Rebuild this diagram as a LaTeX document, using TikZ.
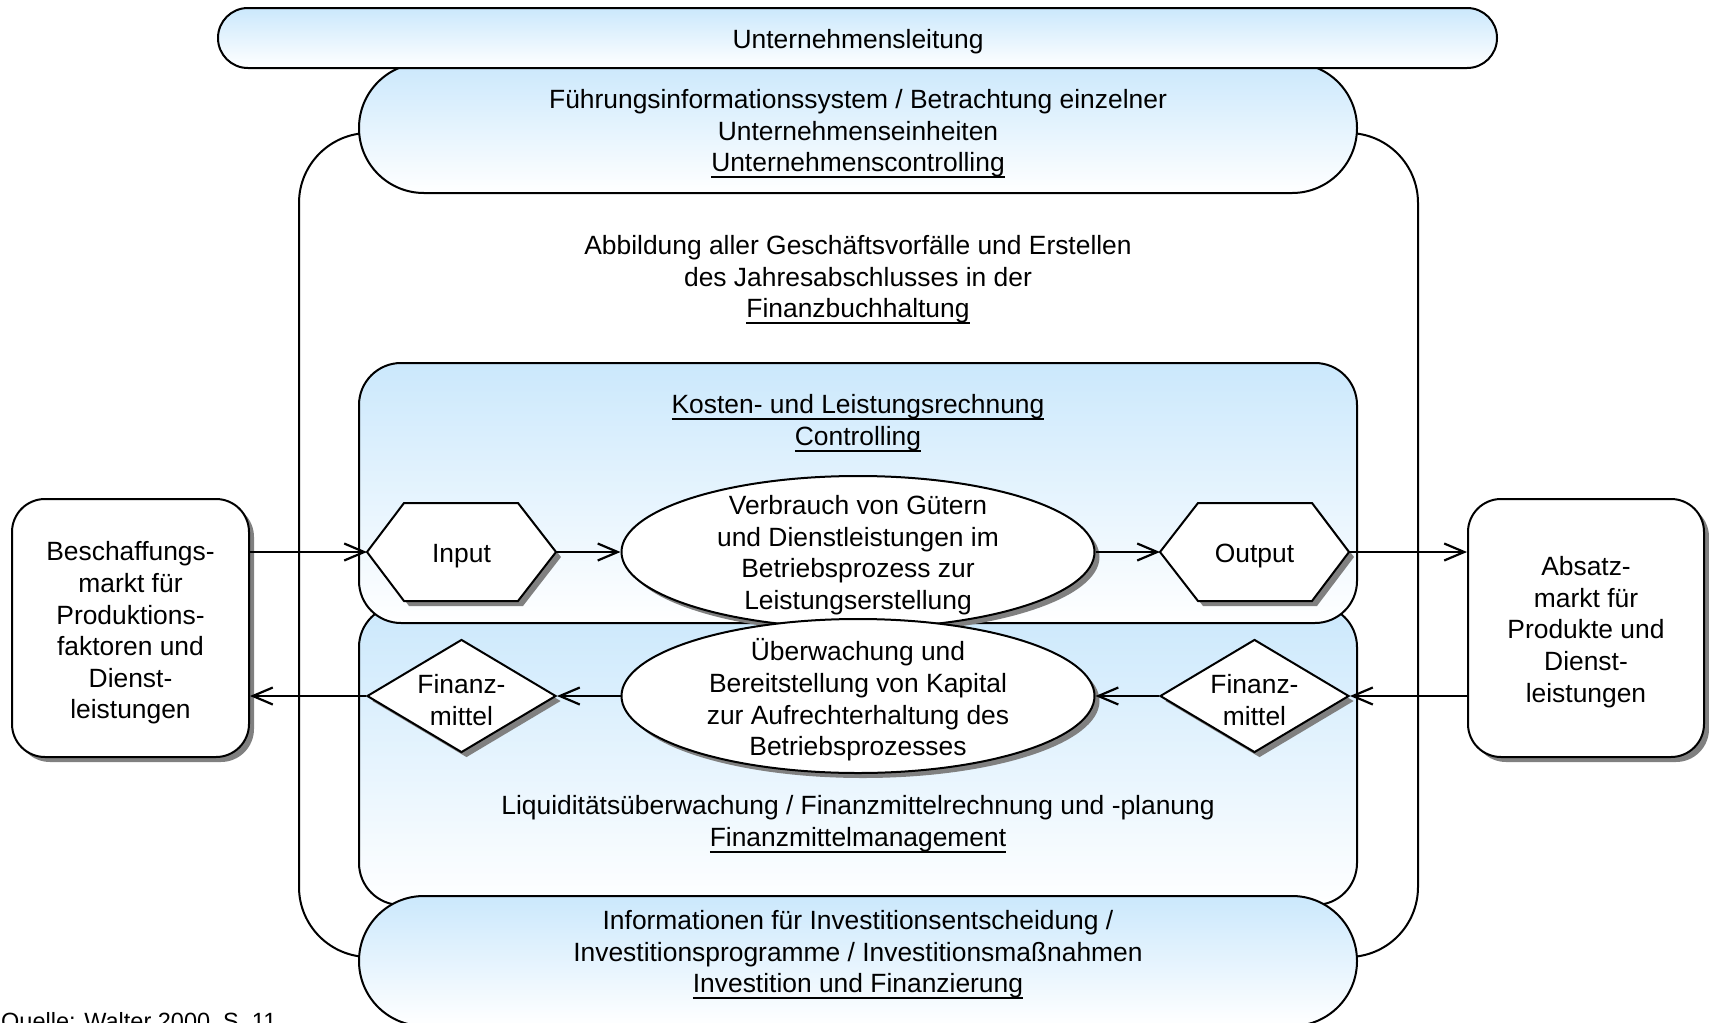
\documentclass[tikz,border=0pt]{standalone}
\usepackage{fontspec}
\setmainfont{Liberation Sans}
\usetikzlibrary{arrows.meta,shapes.geometric,shadows}

\definecolor{paleblue}{RGB}{203,232,252}
\definecolor{shadowgray}{RGB}{128,128,128}

% underline set at a fixed depth below the baseline
\newsavebox\ulbox
\newcommand\ulined[1]{\leavevmode\sbox\ulbox{#1}\rlap{\rule[-0.25em]{\wd\ulbox}{0.075em}}\usebox\ulbox}

\tikzset{
  every node/.style={inner sep=0pt, font=\fontsize{26.4}{31.6}\selectfont},
  txt/.style={align=center},
  dropsh/.style={drop shadow={shadow xshift=5pt, shadow yshift=-5pt, fill=shadowgray, opacity=1}},
  lane/.style={draw, line width=2pt, top color=paleblue, bottom color=white},
  frameline/.style={draw, line width=2pt},
  figure/.style={draw, line width=2pt, fill=white, dropsh},
  oval/.style={figure, ellipse, minimum width=473pt, minimum height=152pt},
  rhomb/.style={figure, diamond, minimum width=189pt, minimum height=113pt},
  market/.style={figure, rectangle, rounded corners=33pt, minimum width=237pt, minimum height=258pt},
  arr/.style={line width=2.2pt, -{Straight Barb[length=20pt,width=17pt,line width=2.2pt]}}
}

\begin{document}
\begin{tikzpicture}[x=1pt,y=-1pt]
\useasboundingbox (0,0) rectangle (1709,1023);
\clip (0,0) rectangle (1709,1023);

% outer frame of the accounting system
\draw[frameline, rounded corners=70pt] (299,133) rectangle (1418,957);

% cost accounting and liquidity bands
\draw[lane, rounded corners=42pt] (359,605) rectangle (1357,905);
\draw[lane, rounded corners=42pt] (359,363) rectangle (1357,623);

% management layers
\draw[lane, rounded corners=64.9pt] (359,63) rectangle (1357,193);
\draw[lane, rounded corners=29.9pt] (218,8) rectangle (1497,68);
\draw[lane, rounded corners=64.9pt] (359,896) rectangle (1357,1026);

\node[txt] (lead) at (858,42) {Unternehmensleitung};
\node[txt] (fis) at (858,134) {Führungsinformationssystem / Betrachtung einzelner\\Unternehmenseinheiten\\\ulined{Unternehmenscontrolling}};
\node[txt] (fibu) at (858,280) {Abbildung aller Geschäftsvorfälle und Erstellen\\des Jahresabschlusses in der\\\ulined{Finanzbuchhaltung}};
\node[txt] (klr) at (858,423) {\ulined{Kosten- und Leistungsrechnung}\\\ulined{Controlling}};
\node[txt] (liq) at (858,824) {Liquiditätsüberwachung / Finanzmittelrechnung und -planung\\\ulined{Finanzmittelmanagement}};
\node[txt] (inv) at (858,955) {Informationen für Investitionsentscheidung /\\Investitionsprogramme / Investitionsmaßnahmen\\\ulined{Investition und Finanzierung}};

% input / output hexagons
\coordinate (inW) at (367,552);
\coordinate (inE) at (556,552);
\draw[line width=2pt, fill=white, dropsh] (inW) -- (404,503) -- (518,503) -- (inE) -- (518,601) -- (404,601) -- cycle;
\node[txt] (input) at (461.5,556) {Input};

\coordinate (outW) at (1160,552);
\coordinate (outE) at (1349,552);
\draw[line width=2pt, fill=white, dropsh] (outW) -- (1198,503) -- (1312,503) -- (outE) -- (1312,601) -- (1198,601) -- cycle;
\node[txt] (output) at (1254.5,556) {Output};

% process ellipses
\node[oval] (use) at (858,552) {};
\node[txt] at (use) [yshift=-3pt] {Verbrauch von Gütern\\und Dienstleistungen im\\Betriebsprozess zur\\Leistungserstellung};
\node[oval, minimum height=154pt] (watch) at (858,696) {};
\node[txt] at (watch) [yshift=-4pt] {Überwachung und\\Bereitstellung von Kapital\\zur Aufrechterhaltung des\\Betriebsprozesses};

% funds diamonds
\node[rhomb] (fmL) at (461.5,696) {};
\node[txt] at (fmL) [yshift=-4pt] {Finanz-\\mittel};
\node[rhomb] (fmR) at (1254.5,696) {};
\node[txt] at (fmR) [yshift=-4pt] {Finanz-\\mittel};

% markets
\node[market] (buy) at (130.5,628) {};
\node[txt] at (buy) [yshift=-5pt] {Beschaffungs-\\markt für\\Produktions-\\faktoren und\\Dienst-\\leistungen};
\node[market, minimum width=236pt] (sell) at (1586,628) {};
\node[txt] at (sell) [yshift=-4pt] {Absatz-\\markt für\\Produkte und\\Dienst-\\leistungen};

% flows of goods
\draw[arr] (buy.east |- inW) -- (inW);
\draw[arr] (inE) -- (use.west);
\draw[arr] (use.east) -- (outW);
\draw[arr] (outE) -- (sell.west |- outE);

% flows of funds
\draw[arr] (sell.west |- fmR) -- (fmR.east);
\draw[arr] (fmR.west) -- (watch.east);
\draw[arr] (watch.west) -- (fmL.east);
\draw[arr] (fmL.west) -- (buy.east |- fmL);

\node[anchor=base west, font=\fontsize{23.5}{28}\selectfont] (src) at (1,1029) {Quelle: Walter 2000, S. 11};
\end{tikzpicture}
\end{document}
